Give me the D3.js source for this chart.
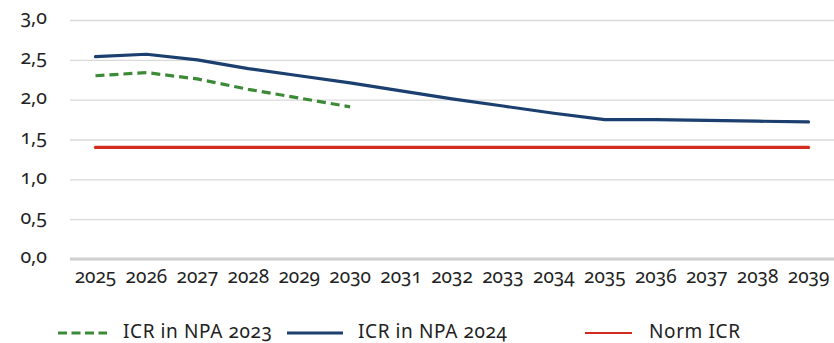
<!DOCTYPE html>
<html>
<head>
<meta charset="utf-8">
<script src="https://cdn.jsdelivr.net/npm/d3@7/dist/d3.min.js"></script>
<style>
  html, body { margin: 0; padding: 0; background: #fff; }
  svg { display: block; font-family: "Noto Sans", "Open Sans", sans-serif; font-variant-numeric: oldstyle-nums; }
  svg text { font-family: "Noto Sans", "Open Sans", sans-serif; font-variant-numeric: oldstyle-nums; }
</style>
</head>
<body>
<svg id="chart" width="834" height="343"></svg>
<script>
const years = ["2025","2026","2027","2028","2029","2030","2031","2032","2033","2034","2035","2036","2037","2038","2039"];
const npa2023 = [2.30, 2.34, 2.26, 2.13, 2.02, 1.91];
const npa2024 = [2.54, 2.57, 2.50, 2.39, 2.30, 2.21, 2.11, 2.01, 1.92, 1.83, 1.75, 1.75, 1.74, 1.73, 1.72];
const normICR = [1.4, 1.4, 1.4, 1.4, 1.4, 1.4, 1.4, 1.4, 1.4, 1.4, 1.4, 1.4, 1.4, 1.4, 1.4];
const yTicks = [0, 0.5, 1.0, 1.5, 2.0, 2.5, 3.0];
const legendLabels = ["ICR in NPA 2023", "ICR in NPA 2024", "Norm ICR"];

const svg = d3.select("#chart");
const plotLeft = 70, plotRight = 834, plotTop = 20, plotBottom = 259;

const x = d3.scaleBand().domain(years).range([plotLeft, plotRight]);
const y = d3.scaleLinear().domain([0, 3]).range([plotBottom, plotTop]);
const fmt = v => d3.format(".1f")(v).replace(".", ",");

// horizontal gridlines and value labels
const yAxis = svg.append("g")
  .attr("transform", `translate(${plotLeft},0)`)
  .call(d3.axisLeft(y).tickValues(yTicks).tickFormat(fmt).tickSize(-(plotRight - plotLeft)).tickPadding(23))
  .attr("font-family", null).attr("font-size", null);
yAxis.select(".domain").remove();
yAxis.selectAll(".tick line").attr("stroke", "#d9d9d9").attr("stroke-width", 1.3);
yAxis.selectAll(".tick text").attr("fill", "#222").attr("font-size", 19.5).attr("dy", "0.2em");

// baseline at zero
svg.append("line")
  .attr("x1", plotLeft).attr("x2", plotRight)
  .attr("y1", y(0)).attr("y2", y(0))
  .attr("stroke", "#d0d0d0").attr("stroke-width", 3);

// category axis
const xAxis = svg.append("g")
  .attr("transform", `translate(0,${plotBottom})`)
  .call(d3.axisBottom(x).tickSize(0).tickPadding(11))
  .attr("font-family", null).attr("font-size", null);
xAxis.select(".domain").remove();
xAxis.selectAll(".tick text").attr("fill", "#222").attr("font-size", 19);

const cx = (d, i) => x(years[i]) + x.bandwidth() / 2;
const line = d3.line().x(cx).y(d => y(d));

svg.append("path").datum(normICR)
  .attr("d", line).attr("fill", "none")
  .attr("stroke", "#d42b1e").attr("stroke-width", 3.2).attr("stroke-linecap", "round");

svg.append("path").datum(npa2024)
  .attr("d", line).attr("fill", "none")
  .attr("stroke", "#1b3f6f").attr("stroke-width", 3.2).attr("stroke-linecap", "round").attr("stroke-linejoin", "round");

svg.append("path").datum(npa2023)
  .attr("d", line).attr("fill", "none")
  .attr("stroke", "#3b8a36").attr("stroke-width", 3.2).attr("stroke-dasharray", "9,5");

// legend
const legendY = 333;
const legend = [
  { x1: 58, x2: 107, tx: 123, color: "#3b8a36", w: 3, dash: "9,4.5" },
  { x1: 287, x2: 343, tx: 358, color: "#1b3f6f", w: 3, dash: null },
  { x1: 585, x2: 632, tx: 649, color: "#d42b1e", w: 2, dash: null }
];
legend.forEach((l, i) => {
  svg.append("line")
    .attr("x1", l.x1).attr("x2", l.x2).attr("y1", legendY).attr("y2", legendY)
    .attr("stroke", l.color).attr("stroke-width", l.w)
    .attr("stroke-dasharray", l.dash);
  svg.append("text")
    .attr("x", l.tx).attr("y", 338)
    .attr("fill", "#222").attr("font-size", 19).attr("letter-spacing", 0.6)
    .text(legendLabels[i]);
});
</script>
</body>
</html>
